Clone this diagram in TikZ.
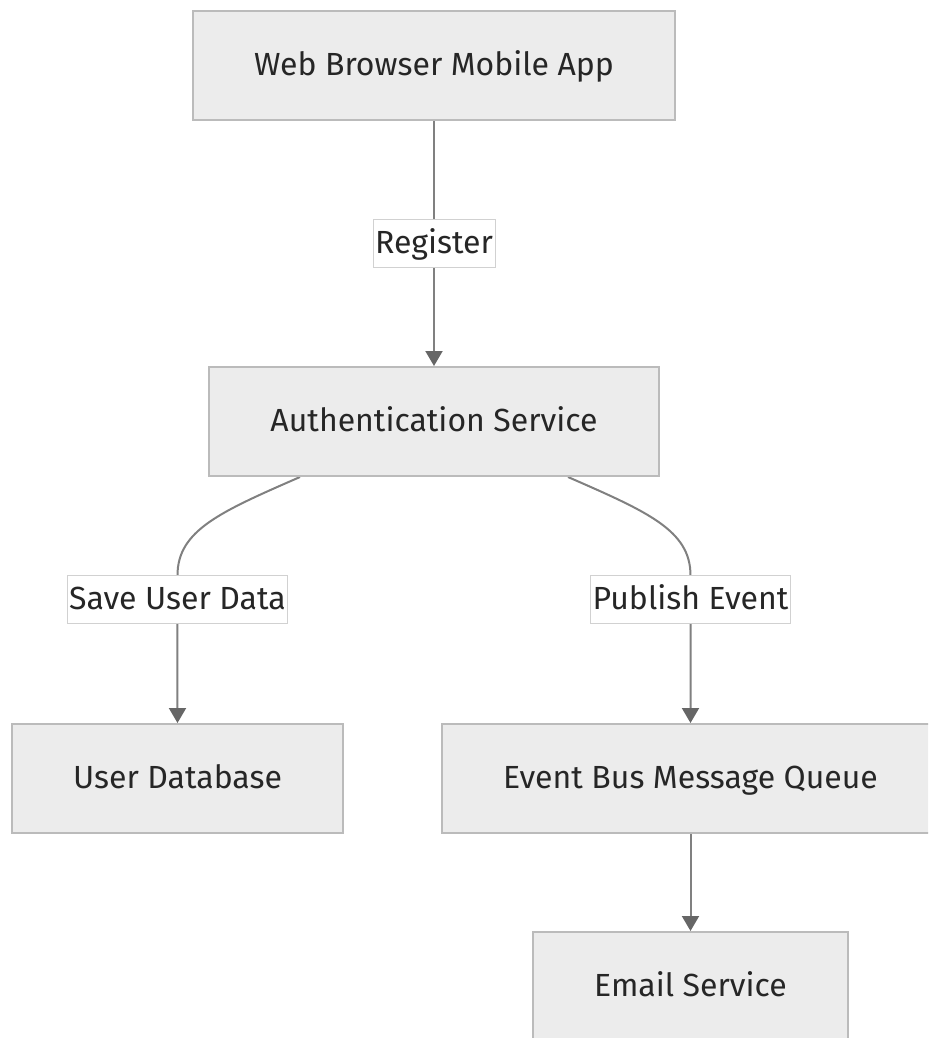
\documentclass[tikz,border=0pt]{standalone}
\usepackage{fontspec}
\setmainfont{Fira Sans}
\usetikzlibrary{positioning,arrows.meta,calc,backgrounds}
\definecolor{svcfill}{HTML}{ECECEC}
\definecolor{svcline}{HTML}{BBBBBB}
\definecolor{edgegray}{HTML}{808080}
\definecolor{tipgray}{HTML}{666666}
\tikzset{
  % service box
  svc/.style  = {rectangle, draw=svcline, line width=1pt, fill=svcfill,
                 align=center, inner xsep=30.5pt, minimum height=54.5pt,
                 text height=12.5pt, text depth=2.5pt,
                 font=\fontsize{16}{19}\selectfont, text=black!85},
  % edge label on white
  lbl/.style  = {rectangle, draw=black!18, line width=0.3pt, fill=white,
                 inner xsep=1pt, inner ysep=0pt, minimum height=24pt,
                 text height=12.5pt, text depth=2.5pt,
                 font=\fontsize{16}{19}\selectfont, text=black!85},
  % arrows
  flow/.style = {-{Triangle[length=7.5pt,width=8.5pt,color=tipgray]},
                 line width=1pt, edgegray},
}
\begin{document}
\begin{tikzpicture}

  % page frame (right and bottom boxes run off the edge)
  \useasboundingbox (-217pt,32.75pt) rectangle (247pt,-486.25pt);
  \clip (-217pt,32.75pt) rectangle (247pt,-486.25pt);

  % --- client and auth ---
  \node[svc] (client) at (0,0) {Web Browser Mobile App};
  \node[svc, below=122.5pt of client] (auth) {Authentication Service};
  \node[lbl] (reg) at ($(client.south)!0.5!(auth.north)$) {Register};

  % --- storage / messaging row ---
  \node[svc, anchor=north] (userdb) at ($(auth.south)+(-128.25pt,-123pt)$) {User Database};
  \node[svc, anchor=north] (bus)    at ($(auth.south)+(128.25pt,-123pt)$)  {Event Bus Message Queue};
  \node[lbl, above=49.5pt of userdb] (save) {Save User Data};
  \node[lbl, above=49.5pt of bus]    (pub)  {Publish Event};

  % --- notification ---
  \node[svc, below=48.5pt of bus] (email) {Email Service};

  % edges go behind the labels
  \begin{scope}[on background layer]
    \draw[flow] (client) -- (auth);
    \draw[flow] ([xshift=-67pt]auth.south) .. controls +(-40pt,-17.5pt) and +(0,22.5pt) .. (save.north) -- (userdb);
    \draw[flow] ([xshift=67pt]auth.south) .. controls +(40pt,-17.5pt) and +(0,22.5pt) .. (pub.north) -- (bus);
    \draw[flow] (bus) -- (email);
  \end{scope}

\end{tikzpicture}
\end{document}
